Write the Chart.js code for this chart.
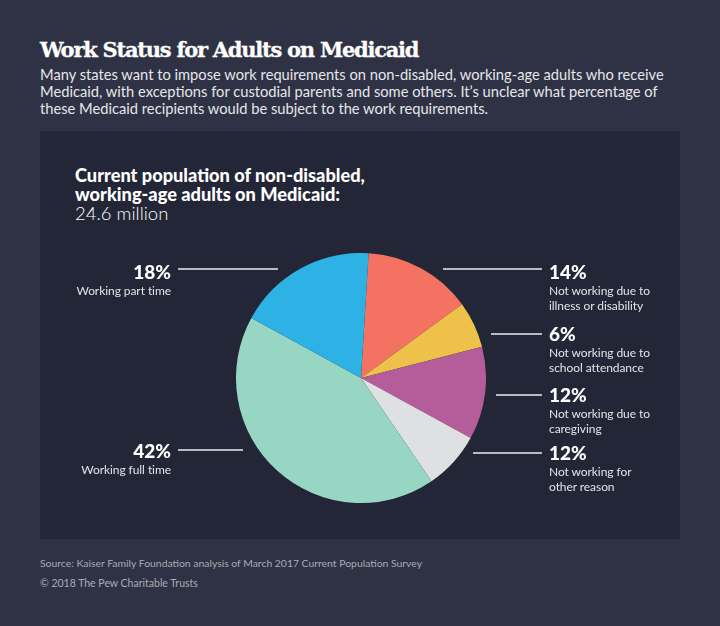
<!DOCTYPE html>
<html>
<head>
<meta charset="utf-8">
<title>Work Status for Adults on Medicaid</title>
<script src="https://cdn.jsdelivr.net/npm/chart.js@4"></script>
<style>
  html, body { margin: 0; padding: 0; }
  body { width: 720px; height: 626px; position: relative; overflow: hidden; background: #2f3244; font-family: Lato, sans-serif; color: #fff; }
  .abs { position: absolute; white-space: nowrap; }
  #panel { position: absolute; left: 40px; top: 131px; width: 640px; height: 408px; background: #232636; }
  #title { left: 40px; top: 37px; font: bold 21px/26px "DejaVu Serif", serif; letter-spacing: -1.25px; -webkit-text-stroke: 0.3px #fff; }
  #intro { left: 40px; top: 66px; font-size: 14.7px; line-height: 17px; color: #e6e7ea; }
  .sub { left: 75px; font-size: 18.2px; line-height: 19px; height: 19px; font-weight: 900; }
  #sub3 { font-size: 18.5px; font-weight: 300; }
  #source { left: 40px; top: 557px; font-size: 10.4px; color: #a9abb5; }
  #copy { left: 40px; top: 577px; font-size: 10.5px; color: #a9abb5; }
  #wrap { position: absolute; left: 236px; top: 253px; width: 250px; height: 250px; }
  .pct { font-size: 19px; line-height: 22px; font-weight: 900; }
  .desc { font-size: 12px; line-height: 14.5px; letter-spacing: -0.07px; color: #e3e4e8; margin-top: 1px; }
  .line { position: absolute; height: 1.5px; background: #b9bbc4; }
</style>
</head>
<body>
<div id="panel"></div>
<div class="abs" id="title">Work Status for Adults on Medicaid</div>
<div class="abs" id="intro">Many states want to impose work requirements on non-disabled, working-age adults who receive<br>Medicaid, with exceptions for custodial parents and some others. It’s unclear what percentage of<br>these Medicaid recipients would be subject to the work requirements.</div>
<div class="abs sub" style="top:166px">Current population of non-disabled,</div>
<div class="abs sub" style="top:185px">working-age adults on Medicaid:</div>
<div class="abs sub" id="sub3" style="top:204px">24.6 million</div>
<div id="wrap"><canvas id="pie" width="250" height="250"></canvas></div>
<div class="abs" id="source">Source: Kaiser Family Foundation analysis of March 2017 Current Population Survey</div>
<div class="abs" id="copy">© 2018 The Pew Charitable Trusts</div>
<div id="notes"></div>
<script>
const categories = ['Not working due to illness or disability', 'Not working due to school attendance', 'Not working due to caregiving', 'Not working for other reason', 'Working full time', 'Working part time'];
// slice sizes as drawn; the grey one is drawn smaller than its printed label
const sliceValues = [14, 6, 12, 7.5, 42.5, 18];
const printedLabels = ['14%', '6%', '12%', '12%', '42%', '18%'];
const sliceColors = ['#f37262', '#eec14b', '#b55d9b', '#dfe0e2', '#98d6c4', '#2eb2e6'];

// label placement: line start, line end, line y, text top
const noteSpots = [
  { x1: 443, x2: 542, y: 268, top: 261, right: false, lines: ['Not working due to', 'illness or disability'] },
  { x1: 491, x2: 542, y: 333, top: 323, right: false, lines: ['Not working due to', 'school attendance'] },
  { x1: 496, x2: 542, y: 394, top: 384, right: false, lines: ['Not working due to', 'caregiving'] },
  { x1: 473, x2: 542, y: 452, top: 442, right: false, lines: ['Not working for', 'other reason'] },
  { x1: 178, x2: 243, y: 449, top: 440, right: true, lines: ['Working full time'] },
  { x1: 178, x2: 278, y: 268, top: 261, right: true, lines: ['Working part time'] }
];

const notes = document.getElementById('notes');
noteSpots.forEach(function (spot, i) {
  const line = document.createElement('div');
  line.className = 'line';
  line.style.left = spot.x1 + 'px';
  line.style.width = (spot.x2 - spot.x1) + 'px';
  line.style.top = spot.y + 'px';
  notes.appendChild(line);

  const box = document.createElement('div');
  box.className = 'abs';
  box.style.top = spot.top + 'px';
  if (spot.right) {
    box.style.right = (720 - 171) + 'px';
    box.style.textAlign = 'right';
  } else {
    box.style.left = '549px';
  }
  box.innerHTML = '<div class="pct">' + printedLabels[i] + '</div><div class="desc">' + spot.lines.join('<br>') + '</div>';
  notes.appendChild(box);
});

const ctx = document.getElementById('pie').getContext('2d');
new Chart(ctx, {
  type: 'pie',
  data: {
    labels: categories,
    datasets: [{
      data: sliceValues,
      backgroundColor: sliceColors,
      borderWidth: 0
    }]
  },
  options: {
    responsive: false,
    animation: false,
    rotation: 3.5,
    layout: { padding: 0 },
    plugins: {
      legend: { display: false },
      tooltip: { enabled: false }
    }
  }
});
</script>
</body>
</html>
